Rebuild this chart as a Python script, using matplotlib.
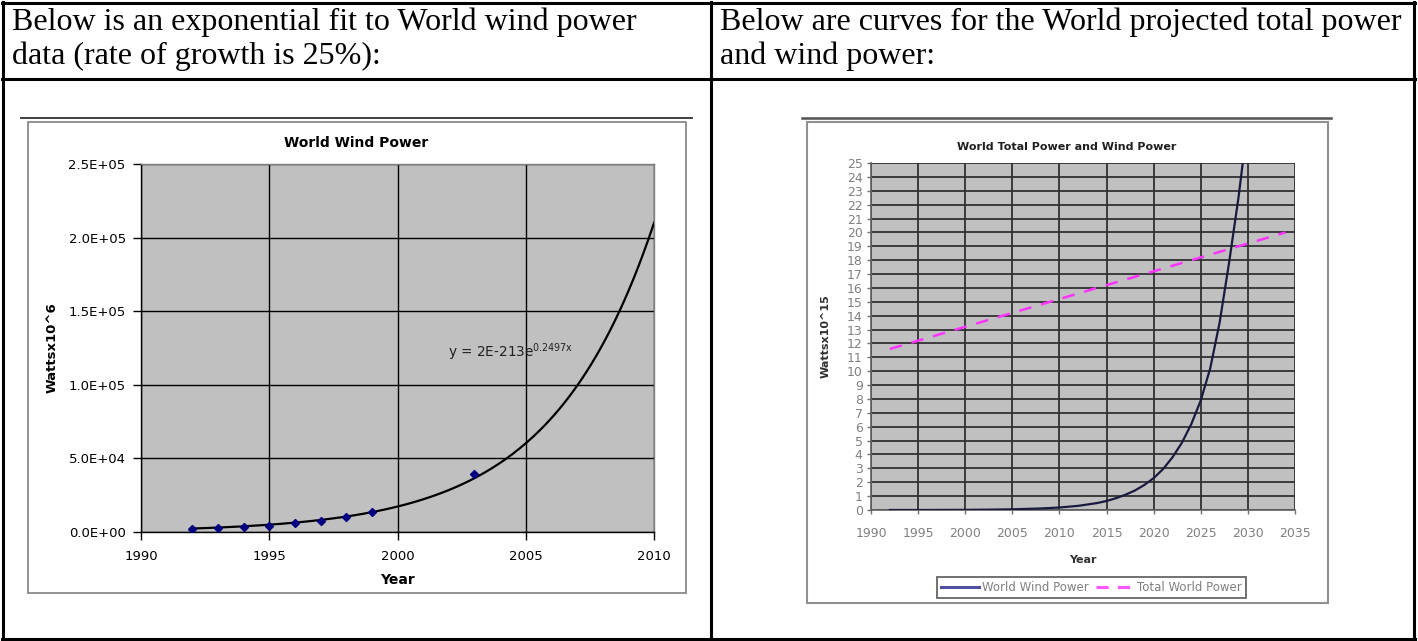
import matplotlib
matplotlib.use('Agg')
import matplotlib.pyplot as plt
import numpy as np
from matplotlib.lines import Line2D
from matplotlib.patches import Rectangle

# ---------------- data ----------------
header_left = ["Below is an exponential fit to World wind power",
               "data (rate of growth is 25%):"]
header_right = ["Below are curves for the World projected total power",
                "and wind power:"]

wind_years = [1992, 1993, 1994, 1995, 1996, 1997, 1998, 1999, 2003]
wind_mw = [2300, 2500, 3400, 4400, 6000, 7500, 10000, 13500, 39500]
fit_rate = 0.2497          # exponent of the trend line
fit_at_2010 = 2.1e5        # trend line value read at 2010
left_xticks = [1990, 1995, 2000, 2005, 2010]
left_yticks = [0, 5e4, 1e5, 1.5e5, 2e5, 2.5e5]
left_ytick_labels = ["0.0E+00", "5.0E+04", "1.0E+05", "1.5E+05", "2.0E+05", "2.5E+05"]

proj_wind_years = [1992, 1995, 2000, 2003, 2005, 2008, 2010, 2011, 2012, 2013, 2014,
                   2015, 2016, 2017, 2018, 2019, 2020, 2021, 2022, 2023, 2024,
                   2025, 2026, 2027, 2028, 2029, 2030]
proj_wind = [0.00, 0.00, 0.01, 0.03, 0.05, 0.11, 0.18, 0.24, 0.30, 0.40, 0.50,
             0.65, 0.85, 1.10, 1.40, 1.80, 2.30, 2.95, 3.80, 4.85, 6.20,
             7.90, 10.2, 13.5, 17.8, 22.5, 28.0]
total_years = [1992, 1995, 2000, 2005, 2010, 2015, 2020, 2025, 2030, 2034]
total_power = [11.6, 12.2, 13.2, 14.2, 15.2, 16.2, 17.2, 18.2, 19.2, 20.0]
right_xticks = [1990, 1995, 2000, 2005, 2010, 2015, 2020, 2025, 2030, 2035]
right_yticks = list(range(0, 26))

# ---------------- figure ----------------
W, H = 1418, 641
fig = plt.figure(figsize=(W / 100, H / 100), dpi=100)
fig.patch.set_facecolor('white')


def rect(x0, y0, x1, y1):
    return [x0 / W, 1 - y1 / H, (x1 - x0) / W, (y1 - y0) / H]


def line(xs, ys, color='black', lw=1.5):
    fig.add_artist(Line2D([x / W for x in xs], [1 - y / H for y in ys],
                          color=color, lw=lw, transform=fig.transFigure))


def box(x0, y0, x1, y1, ec='#808080', lw=1.2):
    fig.add_artist(Rectangle((x0 / W, 1 - y1 / H), (x1 - x0) / W, (y1 - y0) / H,
                             fill=False, ec=ec, lw=lw, transform=fig.transFigure))


def ftext(x, y, s, **kw):
    fig.text(x / W, 1 - y / H, s, transform=fig.transFigure, **kw)


# table
line([2, 1415], [3, 3], lw=2.2)
line([2, 1415], [639, 639], lw=2.2)
line([3, 3], [2, 640], lw=2.2)
line([1414, 1414], [2, 640], lw=2.2)
line([711, 711], [2, 640], lw=2.2)
line([2, 1415], [79, 79], lw=2.2)

serif = dict(family='Liberation Serif', fontsize=23, color='black', va='center', ha='left')
ftext(12, 22, header_left[0], **serif)
ftext(12, 56, header_left[1], **serif)
ftext(720, 22, header_right[0], **serif)
ftext(720, 56, header_right[1], **serif)

# ---------------- left chart ----------------
line([21, 692], [118, 118], color='#303030', lw=1.3)
box(28, 122, 686, 593)
ftext(356, 143, "World Wind Power", ha='center', va='center', fontsize=10,
      fontweight='bold', family='DejaVu Sans')

ax1 = fig.add_axes(rect(141, 164, 654, 532))
ax1.set_facecolor('#C0C0C0')
tx = np.linspace(wind_years[0], 2010, 200)
ty = fit_at_2010 * np.exp(fit_rate * (tx - 2010))
ax1.plot(tx, ty, color='black', lw=1.6, zorder=3)
ax1.plot(wind_years, wind_mw, linestyle='none', marker='D', ms=4.5,
         color='#000080', zorder=4)
ax1.set_xlim(1990, 2010)
ax1.set_ylim(0, 2.5e5)
ax1.set_xticks(left_xticks)
ax1.set_xticklabels([str(v) for v in left_xticks])
ax1.set_yticks(left_yticks)
ax1.set_yticklabels(left_ytick_labels)
ax1.grid(True, color='black', lw=1.0)
ax1.set_axisbelow(True)
for s in ax1.spines.values():
    s.set_color('black')
    s.set_linewidth(1.0)
ax1.spines['top'].set_color('#808080')
ax1.spines['right'].set_color('#808080')
ax1.tick_params(direction='out', length=6, width=1, labelsize=9.5, pad=5)
ax1.tick_params(axis='x', pad=7)
ax1.set_xlabel("Year", fontsize=10, fontweight='bold')
ax1.xaxis.set_label_coords(0.5, -0.111)
ax1.set_ylabel("Wattsx10^6", fontsize=9.5, fontweight='bold', va='center')
ax1.yaxis.set_label_coords(-0.173, 0.5)
ax1.text(2001.97, 1.223e5, r"y = 2E-213e$^{\mathregular{0.2497x}}$", fontsize=9.8,
         color='#202020', va='center')

# ---------------- right chart ----------------
narrow = ['Liberation Sans Narrow', 'DejaVu Sans']
line([802, 1331], [118, 118], color='#505050', lw=1.8)
box(807, 122, 1328, 603, ec='#909090', lw=1.5)
ftext(1067, 147, "World Total Power and Wind Power", ha='center', va='center',
      fontsize=8, fontweight='bold', color='#202020', family='DejaVu Sans')

ax2 = fig.add_axes(rect(871, 163, 1295, 510))
ax2.set_facecolor('#C0C0C0')
ax2.plot(total_years, total_power, color='#FF33FF', lw=1.8, dashes=(5, 4), zorder=3)
ax2.plot(proj_wind_years, proj_wind, color='#1a1a40', lw=1.6, zorder=4)
ax2.set_xlim(1990, 2035)
ax2.set_ylim(0, 25)
ax2.set_xticks(right_xticks)
ax2.set_xticklabels([str(v) for v in right_xticks], family=narrow)
ax2.set_yticks(right_yticks)
ax2.set_yticklabels([str(v) for v in right_yticks], family=narrow)
ax2.grid(True, color='#303030', lw=1.3)
ax2.set_axisbelow(True)
ax2.spines['top'].set_visible(False)
ax2.spines['right'].set_visible(False)
for s in ['left', 'bottom']:
    ax2.spines[s].set_color('#606060')
    ax2.spines[s].set_linewidth(1.2)
ax2.tick_params(direction='out', length=3, width=1, labelsize=9,
                labelcolor='#808080', colors='#707070')
ax2.tick_params(axis='y', pad=3)
ax2.tick_params(axis='x', pad=9)
ax2.set_xlabel("Year", fontsize=8, fontweight='bold', color='#303030')
ax2.xaxis.set_label_coords(0.5, -0.13)
ax2.set_ylabel("Wattsx10^15", fontsize=8, fontweight='bold', color='#303030', va='center')
ax2.yaxis.set_label_coords(-0.108, 0.5)

handles = [Line2D([], [], color='#5050a0', lw=2.2),
           Line2D([], [], color='#FF55FF', lw=2.2, dashes=(4, 3))]
leg = fig.legend(handles, ["World Wind Power", "Total World Power"], ncol=2,
                 loc='center', bbox_to_anchor=(1091.5 / W, 1 - 587.5 / H),
                 prop={'family': narrow, 'size': 8.5}, frameon=True, fancybox=False,
                 handlelength=3.2, columnspacing=0.6, handletextpad=0.3,
                 borderpad=0.3, borderaxespad=0, labelcolor='#808080')
leg.get_frame().set_edgecolor('#404040')
leg.get_frame().set_linewidth(1.3)

fig.savefig('out.png', dpi=100, facecolor='white')
